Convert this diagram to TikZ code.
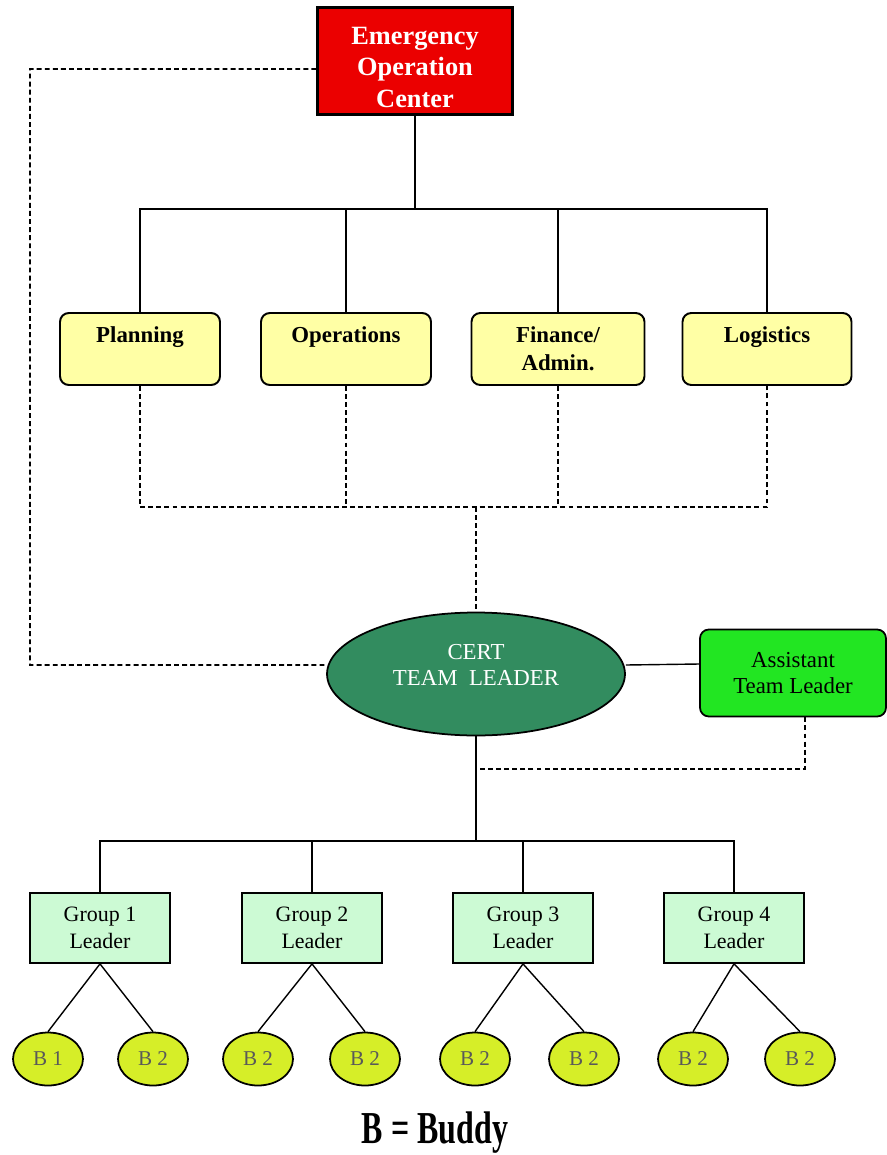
\documentclass[tikz,border=0pt]{standalone}
\usepackage{fontspec}
\setmainfont{Liberation Serif}
\usetikzlibrary{shapes.geometric, positioning, calc}
\definecolor{eocred}{RGB}{235,0,0}
\definecolor{secyellow}{RGB}{255,255,165}
\definecolor{certgreen}{RGB}{50,140,95}
\definecolor{asstgreen}{RGB}{34,230,34}
\definecolor{grpgreen}{RGB}{204,250,212}
\definecolor{buddygreen}{RGB}{214,238,40}

\begin{document}
\begin{tikzpicture}[x=0.02cm, y=-0.02cm,
  conn/.style={line width=0.8pt},
  dashconn/.style={line width=0.9pt, dash pattern=on 2.8pt off 1.8pt},
  sectbox/.style={draw, line width=1.1pt, rounded corners=5pt, fill=secyellow, minimum height=1.44cm, align=center, font=\fontsize{13}{16}\selectfont\bfseries},
  grpbox/.style={draw, line width=1pt, fill=grpgreen, minimum width=2.8cm, minimum height=1.4cm, align=center, font=\fontsize{12.5}{15}\selectfont},
  buddy/.style={ellipse, draw, line width=1pt, fill=buddygreen, minimum width=1.4cm, minimum height=1.06cm, inner sep=0pt, text=black!65, font=\fontsize{12}{14}\selectfont}]
\useasboundingbox (0,0) rectangle (886,1155);

% Command center
\node[draw, line width=1.3pt, fill=eocred, text=white, minimum width=3.9cm, minimum height=2.14cm, align=center, font=\fontsize{15}{18}\selectfont\bfseries] (eoc) at (415,61) {Emergency\\Operation\\Center\\[-25pt]~};

% Sections
\node[sectbox, minimum width=3.2cm] (plan) at (140,349) {Planning\\~};
\node[sectbox, minimum width=3.4cm] (ops) at (346,349) {Operations\\~};
\node[sectbox, minimum width=3.46cm] (fin) at (558,349) {Finance/\\Admin.};
\node[sectbox, minimum width=3.38cm] (logi) at (767,349) {Logistics\\~};

\coordinate (topbus) at (415,209);
\draw[conn] (eoc.south) -- (topbus);
\draw[conn] (plan.north) |- (topbus) -| (logi.north);
\foreach \s in {ops,fin} \draw[conn] (\s.north) -- (\s.north |- topbus);

% Team leader
\node[ellipse, draw, line width=1pt, fill=certgreen, text=white, minimum width=5.96cm, minimum height=2.46cm, align=center, font=\fontsize{13}{15}\selectfont] (cert) at (476,674) {CERT\\TEAM\ \ LEADER\\[-5pt]~};
\node[draw, line width=1pt, rounded corners=5pt, fill=asstgreen, minimum width=3.72cm, minimum height=1.74cm, align=center, font=\fontsize{13}{15}\selectfont] (asst) at (793,673) {Assistant\\Team Leader};

\coordinate (midbus) at (476,507);
\draw[dashconn] (plan.south) |- (midbus) -| (logi.south);
\foreach \s in {ops,fin} \draw[dashconn] (\s.south) -- (\s.south |- midbus);
\draw[dashconn] (midbus) -- (cert.north);

\coordinate (lcorner) at (30,665);
\draw[dashconn] ([yshift=-0.16cm]eoc.west) -| (lcorner) -- ([yshift=0.18cm]cert.west);
\draw[conn] ([yshift=0.18cm]cert.east) -- ([yshift=0.18cm]asst.west);

\coordinate (grpbus) at (476,841);
\coordinate (asstjoin) at (476,769);
\draw[conn] (cert.south) -- (grpbus);
\draw[dashconn] ([xshift=0.24cm]asst.south) |- (asstjoin);

% Groups
\foreach \i/\x in {1/100,2/312,3/523,4/734}
  \node[grpbox] (g\i) at (\x,928) {Group \i\\Leader};
\draw[conn] (g1.north) |- (grpbus) -| (g4.north);
\foreach \i in {2,3} \draw[conn] (g\i.north) -- (g\i.north |- grpbus);

% Buddies
\foreach \n/\x/\g/\t in {1/48/1/{B 1},2/153/1/{B 2},3/258/2/{B 2},4/365/2/{B 2},5/475/3/{B 2},6/584/3/{B 2},7/693/4/{B 2},8/800/4/{B 2}}{
  \node[buddy] (b\n) at (\x,1059) {\t};
  \draw[conn] (g\g.south) -- (b\n.north);
}

\node[font=\fontsize{26}{26}\selectfont\bfseries] (key) at (435,1133) {\scalebox{0.7}[1]{B = Buddy}};
\end{tikzpicture}
\end{document}
